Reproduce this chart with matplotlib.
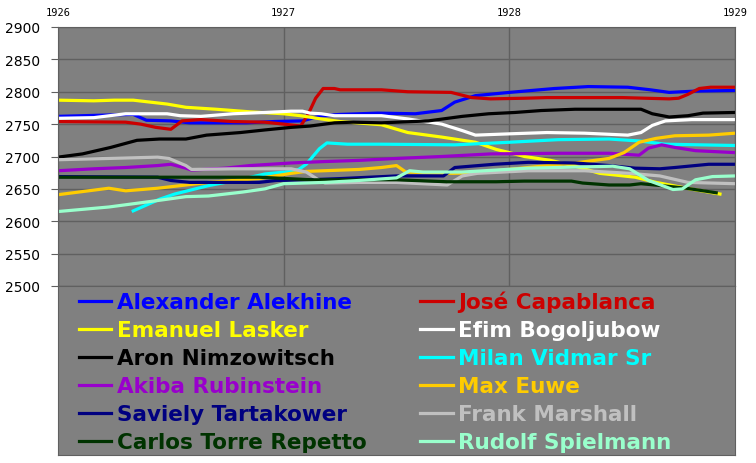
import numpy as np
import matplotlib
matplotlib.use("Agg")
import matplotlib.pyplot as plt

# ratings, months counted from Jan 1926
names = ["Alexander Alekhine", "José Capablanca", "Emanuel Lasker", "Efim Bogoljubow",
         "Aron Nimzowitsch", "Milan Vidmar Sr", "Akiba Rubinstein", "Max Euwe",
         "Saviely Tartakower", "Frank Marshall", "Carlos Torre Repetto", "Rudolf Spielmann"]
colors = ["#0000FF", "#CC0000", "#FFFF00", "#FFFFFF", "#000000", "#00FFFF",
          "#9900CC", "#FFCC00", "#000080", "#C0C0C0", "#003300", "#99FFCC"]

alekhine_m = [0, 2.6, 4, 4.7, 6, 7, 10, 11.5, 13, 14, 15, 17, 19, 20.4, 21.1, 22.2, 24, 26.4, 28.2, 30.3, 31.5, 32.5, 33.9, 36]
alekhine_r = [2762, 2764, 2765, 2756, 2755, 2752, 2752, 2754, 2755, 2763, 2765, 2767, 2766, 2771, 2784, 2794, 2799, 2805, 2808, 2807, 2803, 2799, 2801, 2802]

capablanca_m = [0, 3.6, 4.4, 5.2, 6, 6.6, 7.6, 9.3, 11, 12, 12.9, 13.3, 13.7, 14.1, 14.7, 15, 17.2, 18.6, 20.9, 22, 23, 24.8, 26, 30, 32.5, 33, 33.5, 34.1, 34.7, 36]
capablanca_r = [2754, 2753, 2750, 2745, 2742, 2755, 2757, 2754, 2753, 2750, 2747, 2765, 2790, 2805, 2805, 2803, 2803, 2800, 2799, 2791, 2789, 2790, 2791, 2791, 2789, 2790, 2796, 2805, 2807, 2807]

lasker_m = [0, 1.9, 3, 4, 4.9, 5.8, 6.8, 8.4, 10.2, 12, 12.9, 14, 15, 17.2, 18.6, 20.4, 22.2, 23.3, 24, 24.8, 26.2, 27.5, 28.8, 30.7, 31.8, 33.6, 35.2]
lasker_r = [2787, 2786, 2787, 2787, 2784, 2781, 2776, 2773, 2769, 2766, 2763, 2758, 2754, 2749, 2737, 2730, 2722, 2711, 2706, 2700, 2694, 2685, 2674, 2668, 2660, 2650, 2642]

bogo_m = [0, 1.9, 3.6, 5.8, 6.5, 7.6, 9.3, 11, 12.4, 13, 13.4, 14, 14.7, 17.2, 18.6, 20.4, 21.5, 22.2, 24, 26, 28, 30.3, 31, 31.6, 32.3, 33.7, 36]
bogo_r = [2759, 2760, 2766, 2766, 2763, 2762, 2766, 2768, 2770, 2770, 2767, 2766, 2763, 2763, 2758, 2750, 2740, 2733, 2735, 2737, 2736, 2733, 2737, 2748, 2755, 2757, 2757]

nimzo_m = [0, 1.3, 2.8, 4.2, 5.4, 6.8, 7.9, 9.7, 11, 12.4, 13.4, 14.7, 15.7, 17.2, 19.7, 21.5, 22.9, 24.3, 25.7, 27.5, 31, 31.6, 32.5, 33.5, 34.3, 36]
nimzo_r = [2699, 2704, 2714, 2725, 2727, 2727, 2733, 2737, 2741, 2745, 2747, 2752, 2753, 2752, 2755, 2762, 2766, 2768, 2771, 2773, 2773, 2766, 2761, 2763, 2767, 2768]

vidmar_m = [4, 5.4, 6.2, 8, 9.8, 11, 12.4, 12.8, 13.2, 13.9, 14.3, 15.4, 17.2, 21.1, 24, 26.6, 29.3, 30.9, 32.3, 36]
vidmar_r = [2616, 2634, 2642, 2655, 2665, 2673, 2677, 2680, 2688, 2712, 2721, 2719, 2719, 2718, 2722, 2726, 2727, 2724, 2719, 2717]

rubinstein_m = [0, 1.9, 3.6, 5.3, 6, 6.8, 7.1, 8.9, 10.2, 12.4, 14, 16, 18, 20.4, 23, 26.6, 29.3, 30.9, 31.4, 32.1, 32.8, 33.9, 36]
rubinstein_r = [2678, 2681, 2683, 2686, 2688, 2682, 2679, 2682, 2686, 2690, 2692, 2694, 2697, 2700, 2704, 2705, 2705, 2702, 2713, 2718, 2714, 2709, 2706]

euwe_m = [0, 2.7, 3.6, 5.3, 6.8, 8, 10.7, 12.4, 13.2, 16, 17.2, 18, 18.5, 21, 22.2, 25, 27.5, 29.3, 30.1, 30.9, 31.8, 32.8, 34.6, 36]
euwe_r = [2641, 2651, 2647, 2651, 2656, 2660, 2666, 2674, 2677, 2680, 2683, 2686, 2676, 2674, 2675, 2683, 2690, 2697, 2706, 2722, 2728, 2732, 2733, 2736]

tartakower_m = [0, 5.3, 6, 7, 10.7, 11.6, 13.3, 15.1, 18, 20.5, 21.1, 23.2, 25, 27.5, 29.3, 30.7, 32, 32.8, 34.6, 36]
tartakower_r = [2669, 2668, 2663, 2660, 2660, 2663, 2664, 2666, 2670, 2670, 2683, 2688, 2691, 2690, 2686, 2682, 2681, 2683, 2688, 2688]

marshall_m = [0, 2.7, 5.3, 5.9, 6.8, 7.1, 9.3, 12.4, 13.2, 13.9, 14.2, 16, 18, 20.7, 21.5, 22.3, 25, 28, 30.4, 32, 33.5, 36]
marshall_r = [2695, 2697, 2699, 2697, 2686, 2680, 2681, 2681, 2676, 2663, 2659, 2660, 2660, 2656, 2670, 2674, 2678, 2678, 2674, 2670, 2660, 2658]

torre_m = [0, 10.7, 13.5, 18, 20.7, 23.3, 24.8, 27.3, 27.9, 29.3, 30.4, 31, 32.1, 33.4, 35]
torre_r = [2668, 2668, 2664, 2664, 2661, 2661, 2662, 2662, 2659, 2656, 2656, 2658, 2655, 2651, 2644]

spielmann_m = [0, 2.7, 5.3, 6.8, 8, 9.8, 11, 12, 14.2, 16, 18, 18.7, 19.4, 21.5, 25, 29.5, 30.4, 31.4, 32.7, 33.2, 33.9, 34.8, 36]
spielmann_r = [2615, 2622, 2632, 2638, 2639, 2645, 2650, 2658, 2660, 2663, 2667, 2678, 2676, 2676, 2682, 2685, 2681, 2663, 2649, 2650, 2664, 2669, 2670]

series = [(alekhine_m, alekhine_r), (capablanca_m, capablanca_r), (lasker_m, lasker_r),
          (bogo_m, bogo_r), (nimzo_m, nimzo_r), (vidmar_m, vidmar_r),
          (rubinstein_m, rubinstein_r), (euwe_m, euwe_r), (tartakower_m, tartakower_r),
          (marshall_m, marshall_r), (torre_m, torre_r), (spielmann_m, spielmann_r)]

years = [1926, 1927, 1928, 1929]
yticks = np.arange(2500, 2901, 50)

W, H = 756, 464
fig = plt.figure(figsize=(W / 100, H / 100), dpi=100)
fig.patch.set_facecolor("white")

bg = "#808080"
gridc = "#606060"

# plot area
ax = fig.add_axes([58 / W, 1 - 287 / H, (735 - 58) / W, (287 - 28) / H])
ax.set_facecolor(bg)

lines = []
for (m, r), name, c in zip(series, names, colors):
    x = 1926 + np.array(m) / 12.0
    ln, = ax.plot(x, r, color=c, lw=2.3, label=name, solid_joinstyle="round")
    lines.append(ln)

ax.set_xlim(1926, 1929)
ax.set_ylim(2500, 2900)
ax.set_yticks(yticks)
ax.set_yticklabels([str(v) for v in yticks], fontsize=10, family="DejaVu Sans")
ax.tick_params(axis="y", length=5, color=gridc, pad=8)
ax.xaxis.tick_top()
ax.set_xticks(years)
ax.set_xticklabels([str(y) for y in years], fontsize=7.5, family="DejaVu Sans Mono")
ax.tick_params(axis="x", length=0, pad=7)
ax.grid(True, color=gridc, lw=1)
for s in ax.spines.values():
    s.set_color(gridc)

# legend area below the plot
lax = fig.add_axes([58 / W, 1 - 456 / H, (735 - 58) / W, (456 - 287) / H])
lax.set_facecolor(bg)
lax.set_xticks([])
lax.set_yticks([])
for s in lax.spines.values():
    s.set_color(gridc)

order = [0, 2, 4, 6, 8, 10, 1, 3, 5, 7, 9, 11]
leg = fig.legend([lines[i] for i in order], [names[i] for i in order],
                 loc="upper left", bbox_to_anchor=(79 / W, 1 - 292 / H),
                 ncol=2, frameon=False, labelcolor="linecolor",
                 prop={"family": "DejaVu Sans", "weight": "bold", "size": 15.5},
                 handlelength=1.5, handletextpad=0.25, labelspacing=0.37,
                 columnspacing=2.5, borderpad=0, borderaxespad=0)

fig.savefig("out.png", dpi=100, facecolor=fig.get_facecolor())
